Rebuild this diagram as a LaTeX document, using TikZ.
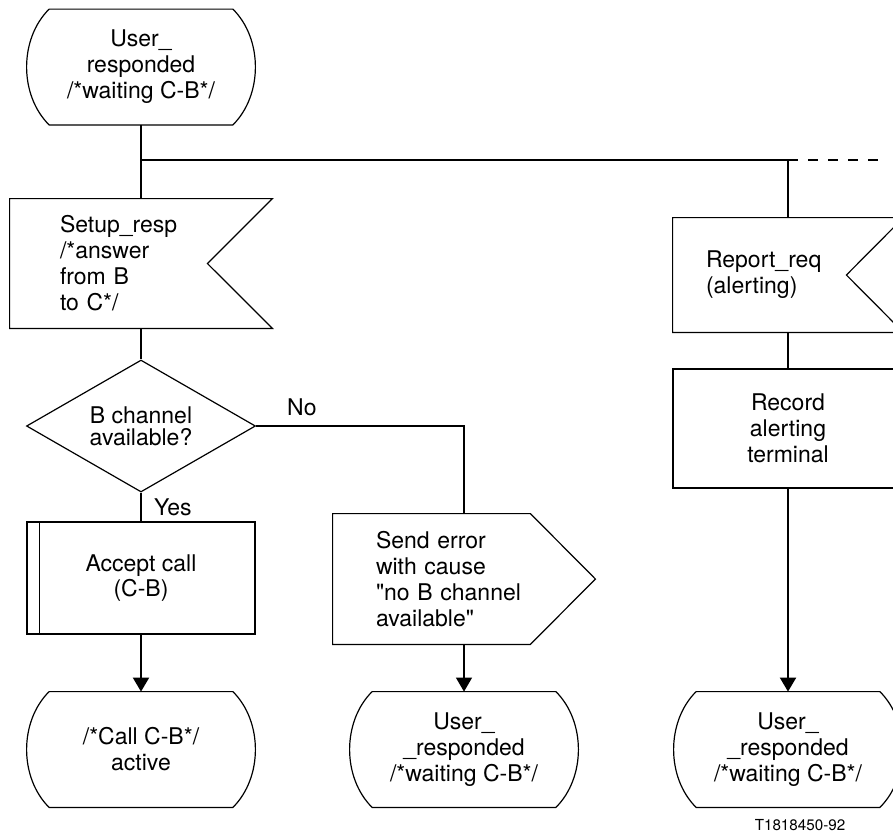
\documentclass[tikz,border=0pt]{standalone}
\usepackage{fontspec}
\setmainfont{TeX Gyre Heros}
\newfontfamily\plainquotes{TeX Gyre Heros}
\usetikzlibrary{shapes.geometric,arrows.meta,positioning,calc}

\begin{document}
\begin{tikzpicture}[x=0.5pt,y=-0.5pt,
    every node/.style={font=\fontsize{11.5pt}{13pt}\selectfont, inner sep=0pt},
    state/.style={minimum width=114.5pt, minimum height=57.5pt, align=center},
    task/.style={draw, line width=0.6pt, minimum width=114pt, minimum height=56pt, align=center},
    sigbox/.style={align=left},
    choice/.style={diamond, draw, line width=0.6pt, aspect=1.73, minimum width=114.5pt, minimum height=66pt, align=center},
    outline/.style={line width=0.6pt},
    flow/.style={line width=1pt},
    thinflow/.style={line width=0.6pt},
    arrowhead/.style={-{Triangle[length=7pt,width=8pt]}}]
    %Page size - coordinates are pixels of the original figure
    %===========================================================
    \useasboundingbox (0,0) rectangle (893,837);
    \clip (0,0) rectangle (893,837);
    %Symbols%
    %===========================================================
    \node[state] (stTop) at (141,67) {User\_\\responded\\/*waiting C-B*/};
    \node[sigbox, minimum width=131pt, minimum height=64.5pt, text width=81pt] (setup) at (141,263.5) {Setup\_resp\\/*answer\\from B\\to C*/};
    \node[choice, font=\fontsize{11.5pt}{11pt}\selectfont] (dec) at (141,426) {B channel\\available?};
    \node[task, font=\fontsize{11.5pt}{11pt}\selectfont] (accept) at (141,578) {Accept call\\(C-B)};
    \node[state] (stCall) at (141,749.5) {/*Call C-B*/\\active};
    \node[sigbox, minimum width=131pt, minimum height=65pt, text width=88pt, font=\plainquotes\fontsize{11.5pt}{13pt}\selectfont] (err) at (464,579) {Send error\\with cause\\"no B channel\\available"};
    \node[state] (stErr) at (464,749.5) {User\_\\\_responded\\/*waiting C-B*/};
    \node[sigbox, minimum width=115pt, minimum height=57pt, text width=82pt] (report) at (788,275) {Report\_req\\(alerting)};
    \node[task, minimum width=115pt, minimum height=59.5pt] (record) at (788,428.5) {Record\\alerting\\terminal};
    \node[state] (stAlert) at (788,749.5) {User\_\\\_responded\\/*waiting C-B*/};
    \node[font=\fontsize{7.6pt}{9pt}\selectfont] (figid) at (800,825) {T1818450-92};
    %State outlines (flat top and bottom, bulging sides)
    \foreach \s in {stTop,stCall,stErr,stAlert}
        \draw[outline] ($(\s.north west)+(23,0)$) -- ($(\s.north east)+(-23,0)$)
            .. controls ($(\s.east)+(7,-28)$) and ($(\s.east)+(7,28)$) .. ($(\s.south east)+(-23,0)$)
            -- ($(\s.south west)+(23,0)$)
            .. controls ($(\s.west)+(-7,28)$) and ($(\s.west)+(-7,-28)$) .. ($(\s.north west)+(23,0)$);
    %Input signals, notch on the right
    \foreach \s/\d in {setup/65,report/57}
        \draw[outline] (\s.north west) -- (\s.north east) -- ($(\s.east)+(-\d,0)$) -- (\s.south east) -- (\s.south west) -- cycle;
    %Output signal
    \draw[outline] (err.north west) -- ($(err.north east)+(-65,0)$) -- (err.east) -- ($(err.south east)+(-65,0)$) -- (err.south west) -- cycle;
    \draw[outline] ($(accept.north west)+(13,0)$) -- ($(accept.south west)+(13,0)$); %Procedure bar
    %Connectors%
    %===========================================================
    \coordinate (fork) at (141,160);
    \coordinate (forkEnd) at (880,160);
    \draw[flow] (stTop.south) -- (setup.north);
    \draw[thinflow] (fork) -| (report.north);
    \draw[line width=1pt, dash pattern=on 5pt off 5pt] (report.north |- fork) -- (forkEnd);
    \draw[flow] (setup.south) -- (dec.north);
    \draw[flow] (dec.south) -- node[right=6pt] {Yes} (accept.north);
    \draw[thinflow] (dec.east) -| node[pos=0.11, above=5pt] {No} (err.north);
    \draw[flow, arrowhead] (accept.south) -- (stCall.north);
    \draw[thinflow, arrowhead] (err.south) -- (stErr.north);
    \draw[thinflow] (report.south) -- (record.north);
    \draw[flow, arrowhead] (record.south) -- (stAlert.north);
\end{tikzpicture}
\end{document}
